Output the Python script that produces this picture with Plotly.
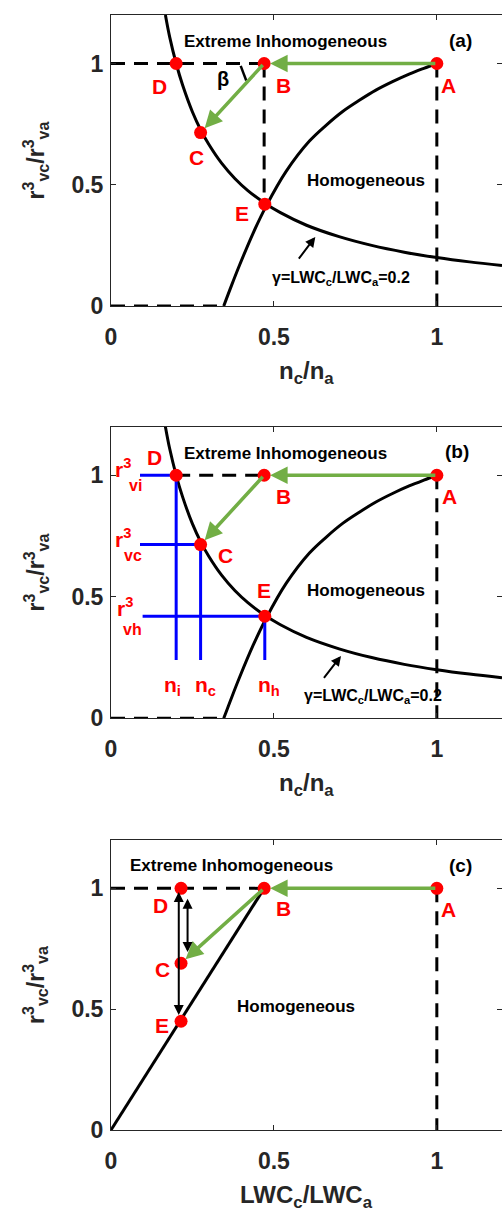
import plotly.graph_objects as go

FONT = "Liberation Sans, Arial, Helvetica, sans-serif"
INK = "#262626"
RED = "#FF0000"
BLUE = "#0000FF"
GREEN = "#72AE45"
DASH = "14px,9px"

# ---------------- data ----------------
# gamma = LWC_c/LWC_a = 0.2 curve (panels a, b)
gamma_x = [0.167, 0.18, 0.20, 0.22, 0.25, 0.275, 0.30, 0.34, 0.38, 0.42, 0.47,
           0.52, 0.60, 0.70, 0.80, 0.90, 1.00, 1.10, 1.20]
gamma_y = [1.20, 1.11, 1.00, 0.91, 0.80, 0.727, 0.667, 0.588, 0.526, 0.476, 0.426,
           0.385, 0.333, 0.286, 0.25, 0.222, 0.20, 0.182, 0.167]
# homogeneous mixing curve (panels a, b)
homog_x = [0.346, 0.37, 0.395, 0.436, 0.477, 0.538, 0.609, 0.66, 0.711, 0.762,
           0.813, 0.864, 0.915, 0.96, 1.0]
homog_y = [0.0, 0.085, 0.17, 0.30, 0.414, 0.556, 0.68, 0.745, 0.802, 0.848,
           0.89, 0.925, 0.956, 0.98, 1.0]
# homogeneous line (panel c)
lwc_x = [0.0, 0.47]
lwc_y = [0.0, 1.0]

# points A..E
point_labels = ["A", "B", "C", "D", "E"]
ab_x = [1.0, 0.47, 0.275, 0.2, 0.472]
ab_y = [1.0, 1.0, 0.715, 1.0, 0.42]
c_x = [1.0, 0.47, 0.215, 0.215, 0.215]
c_y = [1.0, 1.0, 0.69, 1.0, 0.45]

# blue guide lines (panel b): left ends for D, C, E levels and bottom end
blue_left_x = [0.089, 0.089, 0.097]
blue_bottom_y = 0.24

tick_vals = [0, 0.5, 1]
tick_text = ["0", "0.5", "1"]

# ---------------- figure ----------------
fig = go.Figure()


def add_line(x, y, sfx, color="black", width=3, dash=None, shape="linear"):
    fig.add_trace(go.Scatter(
        x=x, y=y, xaxis="x" + sfx, yaxis="y" + sfx, mode="lines",
        line=dict(color=color, width=width, dash=dash, shape=shape, smoothing=1.0),
        hoverinfo="skip", showlegend=False))


def add_points(xs, ys, sfx):
    fig.add_trace(go.Scatter(
        x=xs, y=ys, xaxis="x" + sfx, yaxis="y" + sfx, mode="markers",
        marker=dict(color=RED, size=13, line=dict(width=0)),
        text=point_labels, hoverinfo="text", showlegend=False))


A, B, C, D, E = range(5)

# ---- panel (a) ----
add_line([0, ab_x[B]], [ab_y[B], ab_y[B]], "", dash=DASH)
add_line([ab_x[B], ab_x[B]], [ab_y[B], ab_y[E]], "", dash=DASH)
add_line([ab_x[A], ab_x[A]], [ab_y[A], 0], "", dash=DASH)
add_line([0, homog_x[0]], [0, 0], "", dash=DASH)
add_line(gamma_x, gamma_y, "", shape="spline")
add_line(homog_x, homog_y, "", shape="spline")
add_points(ab_x, ab_y, "")

# ---- panel (b) ----
add_line([ab_x[D], ab_x[B]], [ab_y[B], ab_y[B]], "2", dash=DASH)
add_line([ab_x[A], ab_x[A]], [ab_y[A], 0], "2", dash=DASH)
add_line([0, homog_x[0]], [0, 0], "2", dash=DASH)
add_line(gamma_x, gamma_y, "2", shape="spline")
add_line(homog_x, homog_y, "2", shape="spline")
for k, idx in enumerate([D, C, E]):
    add_line([blue_left_x[k], ab_x[idx]], [ab_y[idx], ab_y[idx]], "2", color=BLUE, width=3)
    add_line([ab_x[idx], ab_x[idx]], [ab_y[idx], blue_bottom_y], "2", color=BLUE, width=3)
add_points(ab_x, ab_y, "2")

# ---- panel (c) ----
add_line([0, c_x[B]], [c_y[B], c_y[B]], "3", dash=DASH)
add_line([c_x[A], c_x[A]], [c_y[A], 0], "3", dash=DASH)
add_line(lwc_x, lwc_y, "3")
add_points(c_x, c_y, "3")

# ---------------- annotations ----------------
ann = []


def txt(s, x, y, sfx, size, color="black"):
    ann.append(dict(text="<b>" + s + "</b>", x=x, y=y, xref="x" + sfx, yref="y" + sfx,
                    showarrow=False, xanchor="center", yanchor="middle",
                    font=dict(family=FONT, size=size, color=color)))


def arrow(x0, y0, x1, y1, sfx, color, width, both=False, standoff=0):
    ann.append(dict(text="", x=x1, y=y1, ax=x0, ay=y0, xref="x" + sfx, yref="y" + sfx,
                    axref="x" + sfx, ayref="y" + sfx, showarrow=True,
                    arrowhead=2, arrowsize=1.0, arrowwidth=width, arrowcolor=color,
                    arrowside="end+start" if both else "end", standoff=standoff))


# green arrows
for sfx, px, py in [("", ab_x, ab_y), ("2", ab_x, ab_y), ("3", c_x, c_y)]:
    arrow(px[A], py[A], px[B], py[B], sfx, GREEN, 3.5, standoff=6)
    arrow(px[B], py[B], px[C], py[C], sfx, GREEN, 3.5, standoff=6)

# panel (a) texts
txt("Extreme Inhomogeneous", 0.535, 1.09, "", 17)
txt("(a)", 1.073, 1.095, "", 19)
txt("Homogeneous", 0.783, 0.518, "", 17)
txt("γ=LWC<sub>c</sub>/LWC<sub>a</sub>=0.2", 0.706, 0.115, "", 16)
txt("β", 0.345, 0.935, "", 20)
arrow(0.573, 0.189, 0.627, 0.285, "", "black", 2)
for lab, (x, y) in zip(["A", "B", "C", "D", "E"],
                       [(1.036, 0.909), (0.53, 0.909), (0.262, 0.614), (0.15, 0.905), (0.402, 0.381)]):
    txt(lab, x, y, "", 21, RED)

# panel (b) texts
txt("Extreme Inhomogeneous", 0.535, 1.09, "2", 17)
txt("(b)", 1.063, 1.099, "2", 19)
txt("Homogeneous", 0.783, 0.525, "2", 17)
txt("γ=LWC<sub>c</sub>/LWC<sub>a</sub>=0.2", 0.803, 0.088, "2", 16)
arrow(0.65, 0.16, 0.706, 0.257, "2", "black", 2)
for lab, (x, y) in zip(["A", "B", "C", "D", "E"],
                       [(1.038, 0.911), (0.53, 0.913), (0.352, 0.67), (0.132, 1.075), (0.471, 0.525)]):
    txt(lab, x, y, "2", 21, RED)
for sub, (rx, ry), (sx, sy) in [("vi", (0.037, 1.03), (0.075, 0.958)),
                                ("vc", (0.037, 0.743), (0.067, 0.668)),
                                ("vh", (0.043, 0.459), (0.066, 0.366))]:
    txt("r<sup>3</sup>", rx, ry, "2", 21, RED)
    txt(sub, sx, sy, "2", 16, RED)
for lab, x in [("i", 0.19), ("c", 0.289), ("h", 0.485)]:
    txt("n<sub>" + lab + "</sub>", x, 0.135, "2", 21, RED)

# panel (c) texts
txt("Extreme Inhomogeneous", 0.369, 1.095, "3", 17)
txt("(c)", 1.073, 1.095, "3", 19)
txt("Homogeneous", 0.568, 0.51, "3", 17)
for lab, (x, y) in zip(["A", "B", "C", "D", "E"],
                       [(1.036, 0.913), (0.53, 0.916), (0.157, 0.664), (0.153, 0.93), (0.157, 0.434)]):
    txt(lab, x, y, "3", 21, RED)
arrow(0.208, 0.47, 0.208, 0.985, "3", "black", 2, both=True)
arrow(0.235, 0.73, 0.235, 0.957, "3", "black", 2, both=True)

# axis titles
ytitle = "<b>r<sup>3</sup><sub>vc</sub>/r<sup>3</sup><sub>va</sub></b>"
xtitles = ["<b>n<sub>c</sub>/n<sub>a</sub></b>", "<b>n<sub>c</sub>/n<sub>a</sub></b>",
           "<b>LWC<sub>c</sub>/LWC<sub>a</sub></b>"]
for i, sfx in enumerate(["", "2", "3"]):
    ann.append(dict(text=xtitles[i], x=0.5, y=0, xref="x%s domain" % sfx, yref="y%s domain" % sfx,
                    xanchor="center", yanchor="middle", yshift=-66, showarrow=False,
                    font=dict(family=FONT, size=24, color=INK)))
    ann.append(dict(text=ytitle, x=0, y=0.5, xref="x%s domain" % sfx, yref="y%s domain" % sfx,
                    xanchor="center", yanchor="middle", xshift=-76, textangle=-90, showarrow=False,
                    font=dict(family=FONT, size=23, color=INK)))

# the small angle mark near beta
shapes = [dict(type="line", x0=0.398, y0=0.99, x1=0.415, y1=0.93, xref="x", yref="y",
               line=dict(color="black", width=2.5))]

domains = [[0.739, 1.0], [0.3692, 0.6308], [0.0, 0.2601]]
layout = dict(width=502, height=1214, margin=dict(l=111, r=0, t=15, b=84),
              paper_bgcolor="white", plot_bgcolor="white", showlegend=False,
              annotations=ann, shapes=shapes, font=dict(family=FONT))
for i, sfx in enumerate(["", "2", "3"]):
    common = dict(showline=True, linecolor=INK, linewidth=1, mirror="ticks", ticks="inside",
                  ticklen=5, tickcolor=INK, showgrid=False, zeroline=False,
                  tickfont=dict(family=FONT, size=23, color=INK, weight="bold"))
    layout["xaxis" + sfx] = dict(domain=[0, 1], anchor="y" + sfx, range=[0, 1.2],
                                 tickvals=tick_vals, ticktext=tick_text,
                                 ticklabelstandoff=10, **common)
    layout["yaxis" + sfx] = dict(domain=domains[i], anchor="x" + sfx, range=[0, 1.2],
                                 tickvals=tick_vals, ticktext=tick_text,
                                 ticklabelstandoff=2, **common)
fig.update_layout(**layout)
fig.write_html("out.html")
